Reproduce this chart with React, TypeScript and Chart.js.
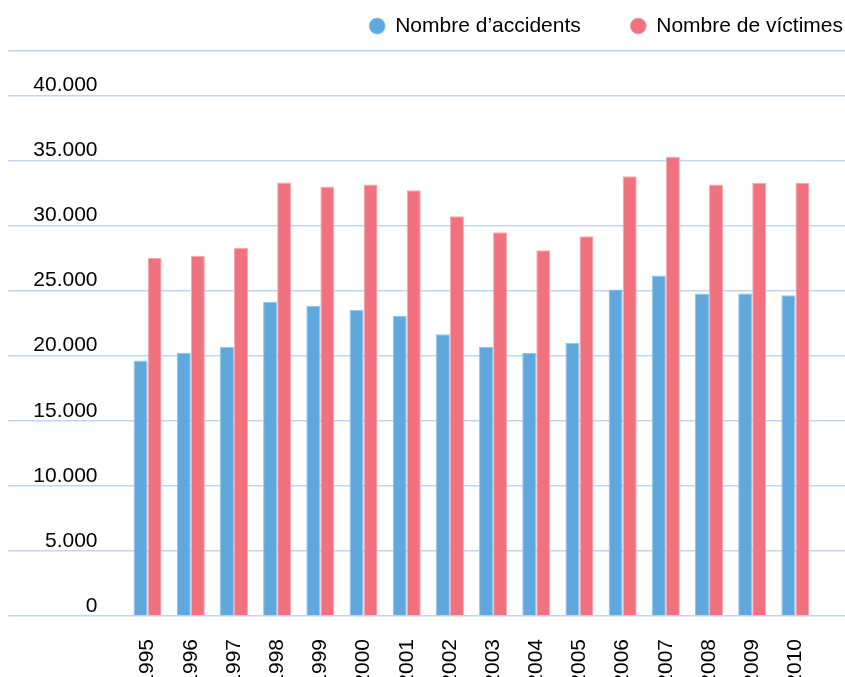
import React, { useEffect, useRef } from 'react';
import { Chart, registerables } from 'chart.js';

Chart.register(...registerables);

const years = ['1995', '1996', '1997', '1998', '1999', '2000', '2001', '2002', '2003', '2004', '2005', '2006', '2007', '2008', '2009', '2010'];
const accidents = [19630, 20230, 20670, 24140, 23830, 23520, 23050, 21640, 20670, 20200, 20980, 25080, 26160, 24770, 24770, 24640];
const victims = [27500, 27670, 28260, 33300, 33000, 33150, 32700, 30700, 29470, 28100, 29170, 33770, 35280, 33150, 33280, 33280];
const yTickValues = [0, 5000, 10000, 15000, 20000, 25000, 30000, 35000, 40000];
const yTop = 43400;

const FONT = '"Liberation Sans", Arial, Helvetica, sans-serif';
const GRID = '#bfd6ef';

const fmt = (v: number) => String(v).replace(/\B(?=(\d{3})+(?!\d))/g, '.');
const setTicks = (s: any) => {
  s.ticks = [...yTickValues, yTop].map((v) => ({ value: v }));
};

export default function App() {
  const ref = useRef<HTMLCanvasElement>(null);
  useEffect(() => {
    const chart = new Chart(ref.current as HTMLCanvasElement, {
      type: 'bar',
      data: {
        labels: years,
        datasets: [
          { label: 'Nombre d\u2019accidents', data: accidents, backgroundColor: '#5ea8de', borderColor: '#93c3e9', borderWidth: 1 },
          { label: 'Nombre de víctimes', data: victims, backgroundColor: '#f1717f', borderColor: '#f7aab3', borderWidth: 1 },
        ],
      },
      options: {
        responsive: false,
        animation: false,
        layout: { padding: { left: 8, right: -48, top: -34.5, bottom: 0 } },
        datasets: { bar: { categoryPercentage: 0.65, barPercentage: 1 } },
        plugins: {
          tooltip: { enabled: false },
          legend: {
            position: 'top',
            align: 'end',
            labels: {
              usePointStyle: true,
              pointStyle: 'circle',
              boxWidth: 15,
              boxHeight: 11.3,
              padding: 50,
              color: '#000',
              font: { family: FONT, size: 21 },
            },
          },
        },
        scales: {
          x: {
            grid: { display: false },
            border: { display: false },
            afterFit: (s: any) => { s.height = 69; },
            ticks: {
              minRotation: 90,
              maxRotation: 90,
              autoSkip: false,
              padding: 15,
              color: '#000',
              font: { family: FONT, size: 21 },
            },
          },
          xTop: {
            type: 'category',
            position: 'top',
            grid: { display: false },
            border: { display: false },
            ticks: { display: false },
            afterFit: (s: any) => { s.height = 4.5; },
          },
          y: {
            position: 'left',
            min: 0,
            max: yTop,
            afterBuildTicks: setTicks,
            afterFit: (s: any) => { s.width = 118; },
            grid: { color: GRID, lineWidth: 1.5, tickLength: 118 },
            border: { display: false },
            ticks: {
              padding: -89.5,
              labelOffset: -10,
              color: '#000',
              font: { family: FONT, size: 21 },
              callback: (v: any) => (v === yTop ? '' : fmt(Number(v))),
            },
          },
          yRight: {
            position: 'right',
            min: 0,
            max: yTop,
            afterBuildTicks: setTicks,
            afterFit: (s: any) => { s.width = 76; },
            grid: { drawOnChartArea: false, color: GRID, lineWidth: 1.5, tickLength: 28 },
            border: { display: false },
            ticks: { display: false },
          },
        },
      } as any,
    });
    return () => chart.destroy();
  }, []);
  return (
    <div style={{ position: 'fixed', left: 0, top: 0, width: 845, height: 685 }}>
      <canvas ref={ref} width={845} height={685} style={{ display: 'block', width: 845, height: 685 }} />
    </div>
  );
}
